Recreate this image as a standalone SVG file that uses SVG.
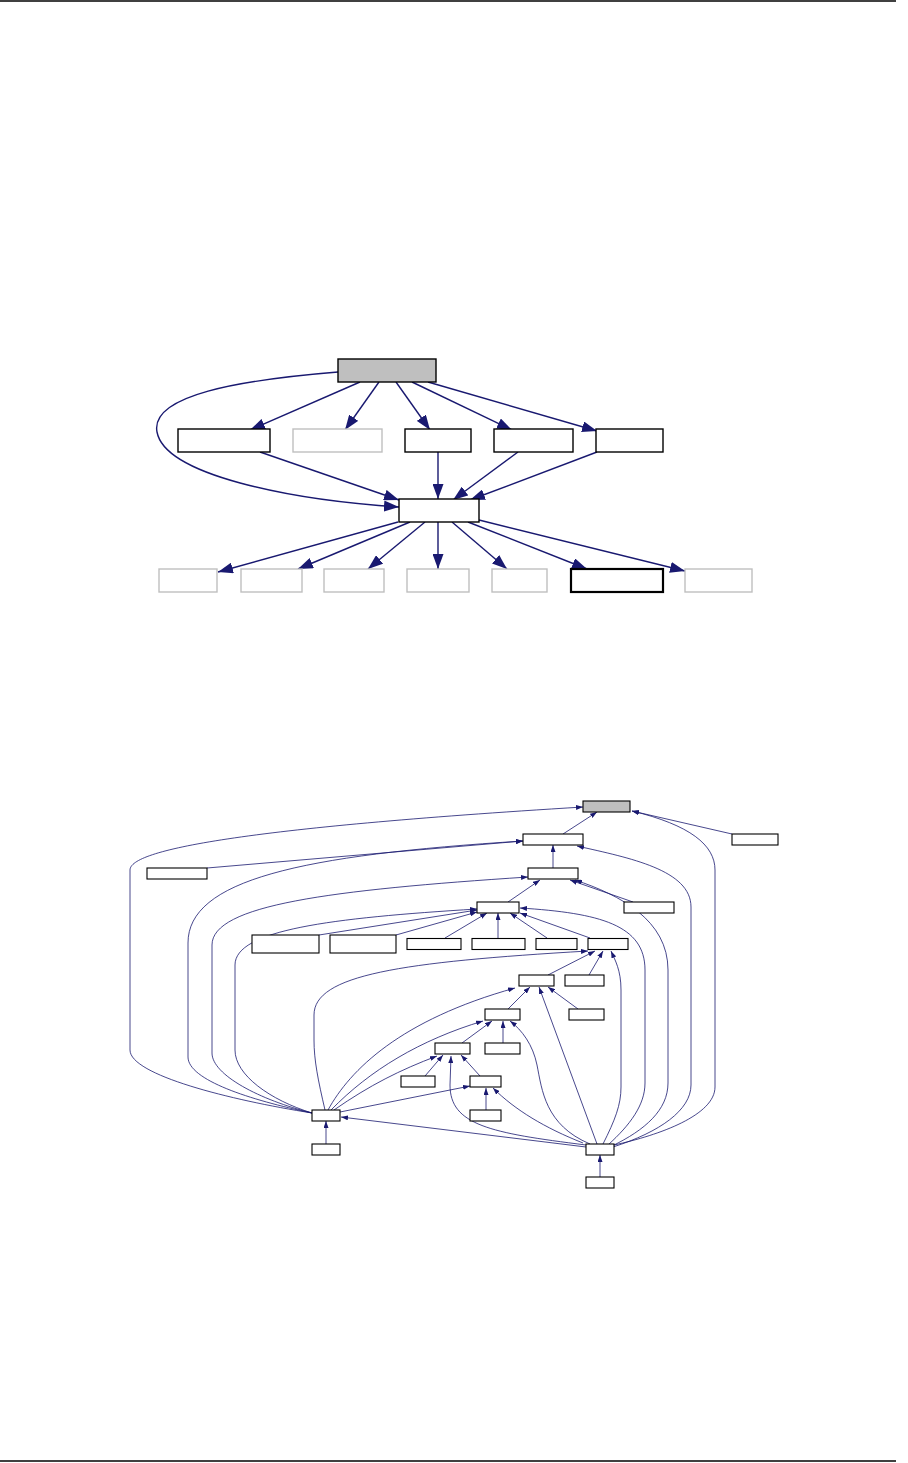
<svg xmlns="http://www.w3.org/2000/svg" width="908" height="1463" viewBox="0 0 908 1463">
<style>
.n{fill:#fff;stroke:#000;stroke-width:1.4}
.g{fill:#fff;stroke:#bfbfbf;stroke-width:1.4}
.r{fill:#bfbfbf;stroke:#000;stroke-width:1.4}
.t{fill:#fff;stroke:#000;stroke-width:2.2}
.sn{fill:#fff;stroke:#000;stroke-width:1.1}
.sr{fill:#bfbfbf;stroke:#000;stroke-width:1.1}
.e{fill:none;stroke:#191970;stroke-width:1.4;marker-end:url(#ab)}
.s{fill:none;stroke:#191970;stroke-width:0.8;marker-end:url(#as)}
.pg{stroke:#000;stroke-width:1.5}
</style>
<defs>
<marker id="ab" markerUnits="userSpaceOnUse" markerWidth="15" markerHeight="11" refX="15" refY="5.5" orient="auto"><path d="M0,0 L15,5.5 L0,11 z" fill="#191970"/></marker>
<marker id="as" markerUnits="userSpaceOnUse" markerWidth="7" markerHeight="5" refX="7" refY="2.5" orient="auto"><path d="M0,0 L7,2.5 L0,5 z" fill="#191970"/></marker>
</defs>
<rect width="908" height="1463" fill="#fff"/>
<line class="pg" x1="0" y1="1" x2="896" y2="1"/>
<line class="pg" x1="0" y1="1461" x2="896" y2="1461"/>

<g id="edges-top">
<path class="e" d="M360,382 L250,430"/>
<path class="e" d="M379,382 L345,430"/>
<path class="e" d="M396,382 L430,430"/>
<path class="e" d="M412,382 L512,430"/>
<path class="e" d="M428,382 L597,431"/>
<path class="e" d="M338,372 C 240,380 150,395 157,432 C 165,475 290,500 399,507"/>
<path class="e" d="M260,452 L399,500"/>
<path class="e" d="M438,452 L438,499"/>
<path class="e" d="M518,452 L453,500"/>
<path class="e" d="M597,452 L470,500"/>
<path class="e" d="M398,522 L218,572"/>
<path class="e" d="M410,522 L298,569"/>
<path class="e" d="M425,522 L368,569"/>
<path class="e" d="M438,522 L438,569"/>
<path class="e" d="M452,522 L507,569"/>
<path class="e" d="M468,522 L587,569"/>
<path class="e" d="M479,520 L685,571"/>
</g>

<g id="t-root"><rect class="r" x="338" y="359" width="98" height="23"/></g>
<g id="t-a"><rect class="n" x="178" y="429" width="92" height="23"/></g>
<g id="t-b"><rect class="g" x="293" y="429" width="89" height="23"/></g>
<g id="t-c"><rect class="n" x="405" y="429" width="66" height="23"/></g>
<g id="t-d"><rect class="n" x="494" y="429" width="79" height="23"/></g>
<g id="t-e"><rect class="n" x="596" y="429" width="67" height="23"/></g>
<g id="t-mid"><rect class="n" x="399" y="499" width="80" height="23"/></g>
<g id="t-b1"><rect class="g" x="159" y="569" width="58" height="23"/></g>
<g id="t-b2"><rect class="g" x="241" y="569" width="61" height="23"/></g>
<g id="t-b3"><rect class="g" x="324" y="569" width="60" height="23"/></g>
<g id="t-b4"><rect class="g" x="407" y="569" width="62" height="23"/></g>
<g id="t-b5"><rect class="g" x="492" y="569" width="55" height="23"/></g>
<g id="t-b6"><rect class="t" x="571" y="569" width="92" height="23"/></g>
<g id="t-b7"><rect class="g" x="685" y="569" width="67" height="23"/></g>

<g id="edges-bottom">
<path class="s" d="M563,834 L597,812"/>
<path class="s" d="M732,834 L632,811"/>
<path class="s" d="M312,1113 C 230,1100 130,1075 130,1050 L130,870 C 130,850 240,828 583,807"/>
<path class="s" d="M614,1145 C 660,1135 715,1115 715,1087 L715,870 C 715,845 690,825 632,811"/>
<path class="s" d="M207,868 L523,841"/>
<path class="s" d="M312,1113 C 250,1100 188,1080 188,1057 L188,943 C 188,880 300,855 523,841"/>
<path class="s" d="M312,1113 C 260,1100 212,1075 212,1053 L212,945 C 212,905 330,890 528,877"/>
<path class="s" d="M312,1113 C 270,1100 235,1075 235,1050 L235,965 C 235,930 330,918 477,909"/>
<path class="s" d="M325,1110 C 318,1080 314,1060 314,1040 L314,1015 C 314,975 400,962 588,951"/>
<path class="s" d="M328,1110 C 350,1070 400,1020 515,988"/>
<path class="s" d="M331,1110 C 370,1070 420,1040 483,1021"/>
<path class="s" d="M334,1110 C 370,1085 400,1070 437,1056"/>
<path class="s" d="M340,1112 L470,1086"/>
<path class="s" d="M586,1147 L341,1117"/>
<path class="s" d="M326,1144 L326,1121"/>
<path class="s" d="M600,1177 L600,1155"/>
<path class="s" d="M597,1144 L539,987"/>
<path class="s" d="M590,1144 C 545,1125 542,1090 537,1065 C 533,1045 522,1030 510,1021"/>
<path class="s" d="M586,1145 C 490,1133 450,1125 450,1085 L451,1056"/>
<path class="s" d="M583,1143 C 545,1128 515,1110 493,1088"/>
<path class="s" d="M603,1144 C 615,1120 621,1105 621,1087 L621,990 C 621,970 615,960 611,951"/>
<path class="s" d="M608,1145 C 630,1125 645,1105 645,1083 L645,970 C 645,925 600,913 520,908"/>
<path class="s" d="M612,1146 C 645,1130 668,1110 668,1083 L668,970 C 668,920 620,895 575,880"/>
<path class="s" d="M613,1147 C 660,1132 691,1110 691,1085 L691,907 C 691,870 630,858 577,846"/>
<path class="s" d="M553,868 L553,845"/>
<path class="s" d="M508,902 L540,880"/>
<path class="s" d="M633,902 L570,880"/>
<path class="s" d="M319,935 L477,910"/>
<path class="s" d="M396,935 L477,912"/>
<path class="s" d="M445,938 L487,913"/>
<path class="s" d="M498,938 L498,913"/>
<path class="s" d="M547,938 L510,913"/>
<path class="s" d="M590,938 L520,913"/>
<path class="s" d="M548,975 L595,951"/>
<path class="s" d="M589,975 L603,951"/>
<path class="s" d="M508,1009 L530,987"/>
<path class="s" d="M578,1009 L548,987"/>
<path class="s" d="M503,1043 L503,1021"/>
<path class="s" d="M462,1043 L492,1021"/>
<path class="s" d="M425,1076 L443,1055"/>
<path class="s" d="M480,1076 L461,1055"/>
<path class="s" d="M486,1110 L486,1088"/>
</g>

<g id="b-root"><rect class="sr" x="583" y="801" width="47" height="11"/></g>
<g id="b-n1"><rect class="sn" x="523" y="834" width="60" height="11"/></g>
<g id="b-r1"><rect class="sn" x="732" y="834" width="46" height="11"/></g>
<g id="b-l1"><rect class="sn" x="147" y="868" width="60" height="11"/></g>
<g id="b-n2"><rect class="sn" x="528" y="868" width="50" height="11"/></g>
<g id="b-n3"><rect class="sn" x="477" y="902" width="42" height="11"/></g>
<g id="b-r2"><rect class="sn" x="624" y="902" width="50" height="11"/></g>
<g id="b-a"><rect class="sn" x="252" y="935" width="67" height="18"/></g>
<g id="b-b"><rect class="sn" x="330" y="935" width="66" height="18"/></g>
<g id="b-c"><rect class="sn" x="407" y="938.5" width="54" height="11"/></g>
<g id="b-d"><rect class="sn" x="472" y="938.5" width="53" height="11"/></g>
<g id="b-e"><rect class="sn" x="536" y="938.5" width="41" height="11"/></g>
<g id="b-n4"><rect class="sn" x="588" y="938.5" width="40" height="11"/></g>
<g id="b-n5"><rect class="sn" x="519" y="975" width="35" height="11"/></g>
<g id="b-g"><rect class="sn" x="565" y="975" width="39" height="11"/></g>
<g id="b-n6"><rect class="sn" x="485" y="1009" width="35" height="11"/></g>
<g id="b-h"><rect class="sn" x="569" y="1009" width="35" height="11"/></g>
<g id="b-n7"><rect class="sn" x="435" y="1043" width="35" height="11"/></g>
<g id="b-i"><rect class="sn" x="485" y="1043" width="35" height="11"/></g>
<g id="b-j"><rect class="sn" x="401" y="1076" width="34" height="11"/></g>
<g id="b-n8"><rect class="sn" x="470" y="1076" width="31" height="11"/></g>
<g id="b-k"><rect class="sn" x="470" y="1110" width="31" height="11"/></g>
<g id="b-p"><rect class="sn" x="312" y="1110" width="28" height="11"/></g>
<g id="b-pc"><rect class="sn" x="312" y="1144" width="28" height="11"/></g>
<g id="b-q"><rect class="sn" x="586" y="1144" width="28" height="11"/></g>
<g id="b-qc"><rect class="sn" x="586" y="1177" width="28" height="11"/></g>
</svg>
